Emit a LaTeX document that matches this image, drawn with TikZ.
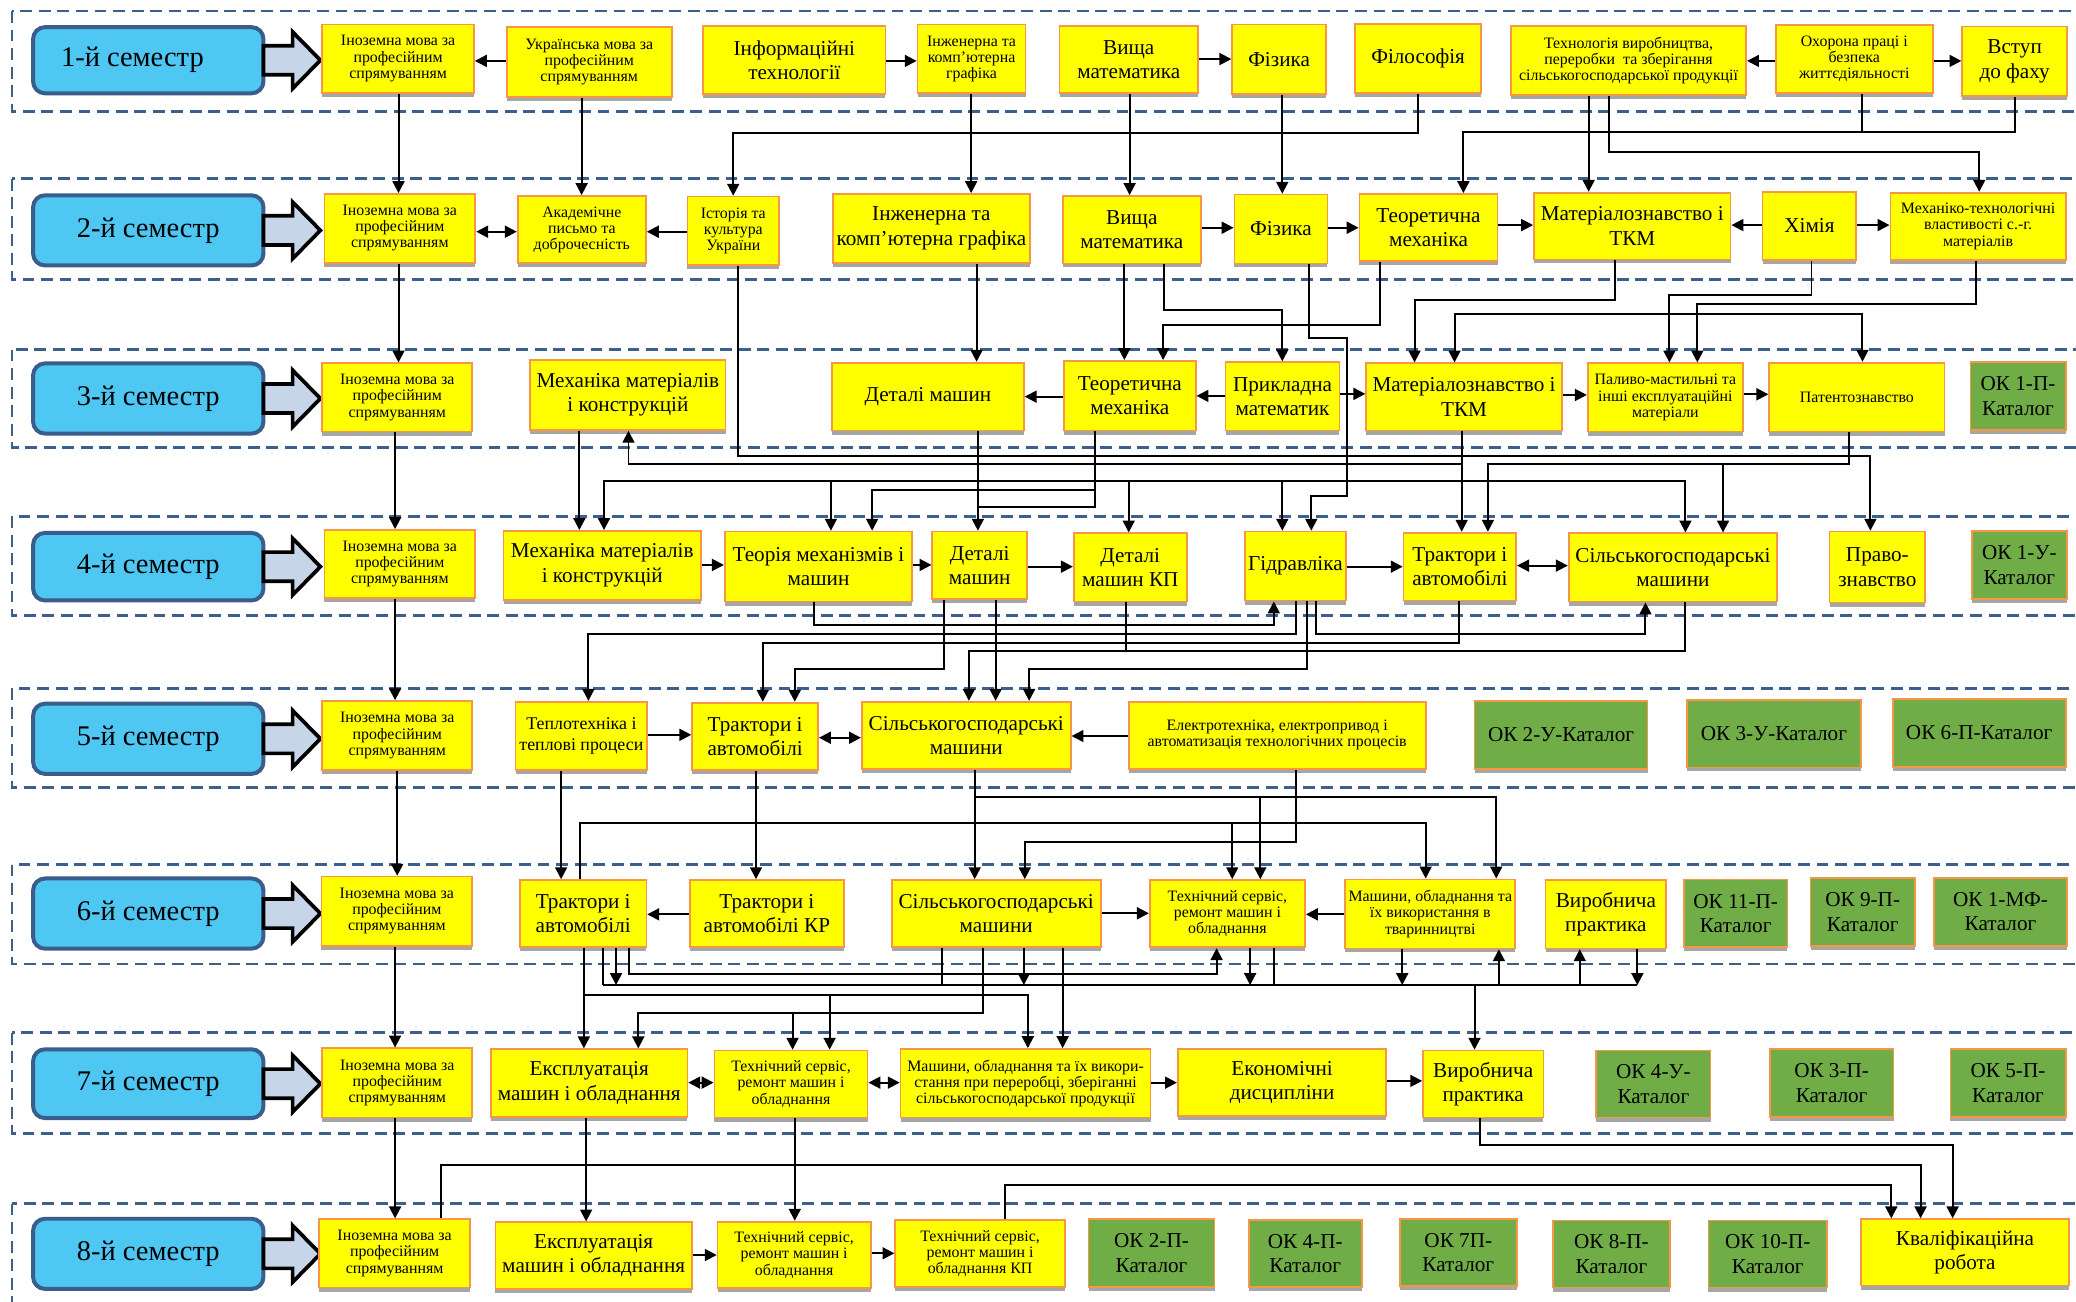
\documentclass[tikz,border=0pt]{standalone}
\usepackage{fontspec}
\setmainfont{Liberation Serif}
\usetikzlibrary{arrows.meta,shadows}
\definecolor{yel}{HTML}{FFFF00}
\definecolor{orb}{HTML}{F79646}
\definecolor{grn}{HTML}{70AD47}
\definecolor{semf}{HTML}{4EC7F3}
\definecolor{semd}{HTML}{3A5D8C}
\definecolor{bandc}{HTML}{3D5F8C}
\definecolor{barr}{HTML}{C6D5E8}
\definecolor{shd}{HTML}{A6A6A6}
\newcommand\mybox[7]{%
  \pgfmathsetmacro\mbw{#4-#2}%
  \pgfmathsetmacro\mbh{#5-#3}%
  \pgfmathsetmacro\mbx{(#2+#4)/2}%
  \pgfmathsetmacro\mby{(#3+#5)/2}%
  \node[#6, minimum width=\mbw pt, minimum height=\mbh pt] (#1) at (\mbx,\mby) {#7};%
}
\newcommand\semrow[4]{%
  \pgfmathsetmacro\sry{(#2+#3)/2}%
  \pgfmathsetmacro\srh{#3-#2-3}%
  \node[semb, minimum height=\srh pt] (#1) at (112,\sry) {#4};%
  \draw[blk] (199,\sry-11) -- (221,\sry-11) -- (221,\sry-21.4) -- (242,\sry) -- (221,\sry+21.4) -- (221,\sry+11) -- (199,\sry+11) -- cycle;%
}
\begin{document}
\begin{tikzpicture}[x=1pt,y=-1pt,
  yb/.style={draw=orb, line width=1.3pt, fill=yel, align=center, inner sep=1pt,
     drop shadow={shadow xshift=0pt, shadow yshift=-3pt, fill=shd, opacity=1}},
  gb/.style={yb, fill=grn},
  bf/.style={font=\fontsize{16}{18.4}\selectfont},
  sf/.style={font=\fontsize{12}{12.2}\selectfont},
  mf/.style={font=\fontsize{13.5}{16}\selectfont},
  semb/.style={draw=semd, line width=3pt, fill=semf, rounded corners=9pt, minimum width=174pt,
     font=\fontsize{21.5}{24}\selectfont},
  blk/.style={draw=black, line width=2.8pt, fill=barr, line join=miter},
  bandl/.style={draw=bandc, line width=2pt, dash pattern=on 9pt off 5pt},
  arr/.style={line width=1.5pt, -{Triangle[length=9pt,width=9pt]}},
  darr/.style={line width=1.5pt, {Triangle[length=9pt,width=9pt]}-{Triangle[length=9pt,width=9pt]}},
  ln/.style={line width=1.5pt}]
\useasboundingbox (0,0) rectangle (1568,983);
\fill[white] (0,0) rectangle (1568,983);
% bands
\draw[bandl] (9,8.3) rectangle (1600,84);
\draw[bandl] (9,135) rectangle (1600,211);
\draw[bandl] (9,264) rectangle (1600,338);
\draw[bandl] (9,390) rectangle (1600,465);
\draw[bandl] (9,520) rectangle (1600,595);
\draw[bandl] (9,653) rectangle (1600,728);
\draw[bandl] (9,780) rectangle (1600,856);
\draw[bandl] (9,909) rectangle (1600,1000);
% semesters
\semrow{s1}{19}{72}{1-й семестр\hspace*{24pt}}
\semrow{s2}{146}{202}{2-й семестр}
\semrow{s3}{273}{329}{3-й семестр}
\semrow{s4}{401}{455}{4-й семестр}
\semrow{s5}{530}{586}{5-й семестр}
\semrow{s6}{662}{718}{6-й семестр}
\semrow{s7}{791}{846}{7-й семестр}
\semrow{s8}{919}{975}{8-й семестр}
% row 1
\mybox{i1}{243.4}{18.4}{358}{70}{yb,sf}{Іноземна мова за\\професійним\\спрямуванням}
\mybox{ukr}{382.7}{20.6}{507.4}{73}{yb,sf}{Українська мова за\\професійним\\спрямуванням}
\mybox{inf}{531.2}{19.4}{668.8}{71.2}{yb,bf}{Інформаційні\\технології}
\mybox{ikg1}{693}{18.6}{774.6}{70.5}{yb,sf}{Інженерна та\\комп'ютерна\\графіка}
\mybox{vm1}{800.3}{19.4}{904.8}{70.5}{yb,bf}{Вища\\математика}
\mybox{fiz1}{930.7}{18.6}{1001.5}{71.2}{yb,bf}{Фізика}
\mybox{fil}{1023.5}{18}{1118.7}{70}{yb,bf}{Філософія}
\mybox{tvp}{1141.2}{19.4}{1318.9}{71.7}{yb,sf}{Технологія виробництва,\\переробки \ та зберігання\\сільськогосподарської продукції}
\mybox{ohp}{1341.3}{18.9}{1459.7}{70}{yb,sf}{Охорона праці і\\безпека\\життєдіяльності}
\mybox{vst}{1482.1}{20.1}{1561.2}{72.3}{yb,bf}{Вступ\\до фаху}
% row 2
\mybox{i2}{245}{146.5}{359}{198.4}{yb,sf}{Іноземна мова за\\професійним\\спрямуванням}
\mybox{akad}{391}{148}{487.9}{198.9}{yb,sf}{Академічне\\письмо та\\доброчесність}
\mybox{ist}{519.2}{148.5}{588.5}{200}{yb,sf}{Історія та\\культура\\України}
\mybox{ikg2}{629}{146.5}{778}{198.4}{yb,bf}{Інженерна та\\комп'ютерна графіка}
\mybox{vm2}{802.6}{148}{907.1}{199}{yb,bf}{Вища\\математика}
\mybox{fiz2}{932.4}{147}{1002.6}{199}{yb,bf}{Фізика}
\mybox{tm2}{1026.8}{146.5}{1131.1}{197}{yb,bf}{Теоретична\\механіка}
\mybox{mtkm2}{1158.6}{145.5}{1307.1}{195.9}{yb,bf}{Матеріалознавство і\\ТКМ}
\mybox{him}{1331.3}{144.8}{1402}{196.4}{yb,bf}{Хімія}
\mybox{mtv}{1427.8}{145.5}{1560.2}{196.4}{yb,sf}{Механіко-технологічні\\властивості с.-г.\\матеріалів}
% row 3
\mybox{i3}{243.4}{274.4}{356.7}{326}{yb,sf}{Іноземна мова за\\професійним\\спрямуванням}
\mybox{mmk3}{400.5}{271.9}{548}{324.7}{yb,bf}{Механіка матеріалів\\і конструкцій}
\mybox{dm3}{628.3}{273.9}{773.3}{325.2}{yb,bf}{Деталі машин}
\mybox{tm3}{803.6}{272.6}{903.1}{325.2}{yb,bf}{Теоретична\\механіка}
\mybox{pm3}{925.7}{273.6}{1011.7}{325.2}{yb,bf}{Прикладна\\математик}
\mybox{mtkm3}{1031.9}{274.4}{1179.7}{325.2}{yb,bf}{Матеріалознавство і\\ТКМ}
\mybox{pmm}{1199.2}{274.4}{1316.5}{326}{yb,sf}{Паливо-мастильні та\\інші експлуатаційні\\матеріали}
\mybox{pat}{1336.3}{273.9}{1468.7}{326}{yb,sf}{Патентознавство}
\mybox{ok1p}{1488.2}{273.6}{1560.2}{324.7}{gb,bf}{ОК 1-П-\\Каталог}
% row 4
\mybox{i4}{245}{400.3}{359}{451.9}{yb,sf}{Іноземна мова за\\професійним\\спрямуванням}
\mybox{mmk4}{380.3}{401}{529.5}{453}{yb,bf}{Механіка матеріалів\\і конструкцій}
\mybox{tmm}{547.4}{401.5}{689}{454.4}{yb,bf}{Теорія механізмів і\\машин}
\mybox{dm4}{704.2}{401.5}{775.7}{452.6}{yb,bf}{Деталі\\машин}
\mybox{dmkp}{811}{402.8}{896.4}{454.4}{yb,bf}{Деталі\\машин КП}
\mybox{gidr}{940.2}{401.5}{1016.7}{453.6}{yb,bf}{Гідравліка}
\mybox{ta4}{1060.1}{402.3}{1145.2}{453.6}{yb,bf}{Трактори і\\автомобілі}
\mybox{sgm4}{1184.8}{402.8}{1342.3}{454.4}{yb,bf}{Сільськогосподарські\\машини}
\mybox{prav}{1381.9}{401.5}{1454}{455.1}{yb,bf}{Право-\\знавство}
\mybox{ok1u}{1489.2}{400.8}{1561.2}{452.6}{gb,bf}{ОК 1-У-\\Каталог}
% row 5
\mybox{i5}{243.4}{529.5}{356.7}{581.6}{yb,sf}{Іноземна мова за\\професійним\\спрямуванням}
\mybox{teplo}{389.4}{530}{488.9}{581.6}{yb,mf}{Теплотехніка і\\теплові процеси}
\mybox{ta5}{522.8}{530.7}{617.9}{581.6}{yb,bf}{Трактори і\\автомобілі}
\mybox{sgm5}{650.9}{530}{808.7}{580.8}{yb,bf}{Сільськогосподарські\\машини}
\mybox{elek}{852.5}{530}{1076.8}{580.8}{yb,sf}{Електротехніка, електропривод і\\автоматизація технологічних процесів}
\mybox{ok2u}{1113.7}{529.5}{1244.4}{580.8}{gb,bf}{ОК 2-У-Каталог}
\mybox{ok3u}{1274.3}{528.7}{1405.4}{579.6}{gb,bf}{ОК 3-У-Каталог}
\mybox{ok6p}{1429.5}{528.2}{1560.2}{579.1}{gb,bf}{ОК 6-П-Каталог}
% row 6
\mybox{i6}{242.8}{662.1}{356.7}{714.5}{yb,sf}{Іноземна мова за\\професійним\\спрямуванням}
\mybox{ta6}{392.8}{664.7}{488.2}{715.5}{yb,bf}{Трактори і\\автомобілі}
\mybox{takr6}{521}{664.7}{637.4}{715.5}{yb,bf}{Трактори і\\автомобілі КР}
\mybox{sgm6}{673.5}{664.7}{831.3}{715.5}{yb,bf}{Сільськогосподарські\\машини}
\mybox{tserv6}{868.4}{664.7}{985.7}{715.5}{yb,sf}{Технічний сервіс,\\ремонт машин і\\обладнання}
\mybox{mashtv}{1016.1}{664.2}{1144.5}{716.3}{yb,sf}{Машини, обладнання та\\їх використання в\\тваринництві}
\mybox{vp6}{1167.3}{664.7}{1258.5}{716.3}{yb,bf}{Виробнича\\практика}
\mybox{ok11p}{1271.9}{664.2}{1350}{715.5}{gb,bf}{ОК 11-П-\\Каталог}
\mybox{ok9p}{1367.5}{663.4}{1446.3}{714.5}{gb,bf}{ОК 9-П-\\Каталог}
\mybox{ok1mf}{1460.7}{662.9}{1561.2}{714.5}{gb,bf}{ОК 1-МФ-\\Каталог}
% row 7
\mybox{i7}{243.4}{791.8}{356.7}{844.1}{yb,sf}{Іноземна мова за\\професійним\\спрямуванням}
\mybox{ekspl7}{370.9}{792.5}{519.2}{843.4}{yb,bf}{Експлуатація\\машин і обладнання}
\mybox{tserv7}{539.6}{793.5}{655.3}{844.1}{yb,sf}{Технічний сервіс,\\ремонт машин і\\обладнання}
\mybox{mashpr7}{680.2}{792.3}{869}{844.1}{yb,sf}{Машини, обладнання та їх викори-\\стання при переробці, зберіганні\\сільськогосподарської продукції}
\mybox{ekon}{889.6}{792.5}{1047.1}{842.9}{yb,bf}{Економічні\\дисципліни}
\mybox{vp7}{1074.8}{793.5}{1165.7}{844.1}{yb,bf}{Виробнича\\практика}
\mybox{ok4u}{1205.6}{793.5}{1292}{844.1}{gb,bf}{ОК 4-У-\\Каталог}
\mybox{ok3p}{1336.6}{792.5}{1430.2}{843.4}{gb,bf}{ОК 3-П-\\Каталог}
\mybox{ok5p}{1473.1}{792.5}{1560.2}{843.4}{gb,bf}{ОК 5-П-\\Каталог}
% row 8
\mybox{i8}{241.1}{920.9}{355}{972.5}{yb,sf}{Іноземна мова за\\професійним\\спрямуванням}
\mybox{ekspl8}{374.2}{923.2}{522.6}{973.8}{yb,bf}{Експлуатація\\машин і обладнання}
\mybox{tserv8}{542}{922.7}{657.6}{973}{yb,sf}{Технічний сервіс,\\ремонт машин і\\обладнання}
\mybox{tserv8kp}{676.2}{921.4}{804.3}{972.3}{yb,sf}{Технічний сервіс,\\ремонт машин і\\обладнання КП}
\mybox{ok2p}{822.2}{920.9}{917.3}{971.8}{gb,bf}{ОК 2-П-\\Каталог}
\mybox{ok4p}{943.2}{921.4}{1028.5}{971.8}{gb,bf}{ОК 4-П-\\Каталог}
\mybox{ok7p}{1057.4}{920.7}{1145.5}{971.3}{gb,bf}{ОК 7П-\\Каталог}
\mybox{ok8p}{1173}{921.9}{1261.2}{972.5}{gb,bf}{ОК 8-П-\\Каталог}
\mybox{ok10p}{1290.4}{921.9}{1379.9}{972.5}{gb,bf}{ОК 10-П-\\Каталог}
\mybox{kval}{1405.4}{920.9}{1562.9}{971}{yb,bf}{Кваліфікаційна\\робота}
% ===== connectors row 1
\draw[arr] (ukr.west |- 0,46) -- (i1.east |- 0,46);
\draw[arr] (inf.east |- 0,46) -- (ikg1.west |- 0,46);
\draw[arr] (vm1.east |- 0,44.6) -- (fiz1.west |- 0,44.6);
\draw[arr] (ohp.west |- 0,46) -- (tvp.east |- 0,46);
\draw[arr] (ohp.east |- 0,46) -- (vst.west |- 0,46);
% row 2
\draw[darr] (i2.east |- 0,175) -- (akad.west |- 0,175);
\draw[arr] (ist.west |- 0,175) -- (akad.east |- 0,175);
\draw[arr] (vm2.east |- 0,172) -- (fiz2.west |- 0,172);
\draw[arr] (fiz2.east |- 0,172) -- (tm2.west |- 0,172);
\draw[arr] (tm2.east |- 0,170) -- (mtkm2.west |- 0,170);
\draw[arr] (him.west |- 0,170) -- (mtkm2.east |- 0,170);
\draw[arr] (him.east |- 0,170) -- (mtv.west |- 0,170);
% 1 -> 2
\draw[arr] (i1.south -| 301,0) -- (i2.north -| 301,0);
\draw[arr] (ukr.south -| 439.3,0) -- (akad.north -| 439.3,0);
\draw[arr] (fil.south -| 1070.8,0) -- (1070.8,100.7) -- (553.8,100.7) -- (ist.north -| 553.8,0);
\draw[arr] (ikg1.south -| 733.5,0) -- (ikg2.north -| 733.5,0);
\draw[arr] (vm1.south -| 853.2,0) -- (vm2.north -| 853.2,0);
\draw[arr] (fiz1.south -| 968.5,0) -- (fiz2.north -| 968.5,0);
\draw[ln] (ohp.south -| 1406,0) -- (1406,99.4);
\draw[arr] (vst.south -| 1521.7,0) -- (1521.7,99.4) -- (1105.3,99.4) -- (tm2.north -| 1105.3,0);
\draw[arr] (tvp.south -| 1199.9,0) -- (mtkm2.north -| 1199.9,0);
\draw[arr] (tvp.south -| 1215.6,0) -- (1215.6,115) -- (1494.9,115) -- (mtv.north -| 1494.9,0);
% 2 -> 3
\draw[arr] (i2.south -| 301,0) -- (i3.north -| 301,0);
\draw[arr] (ikg2.south -| 737.6,0) -- (dm3.north -| 737.6,0);
\draw[arr] (vm2.south -| 849.2,0) -- (tm3.north -| 849.2,0);
\draw[arr] (vm2.south -| 879.5,0) -- (879.5,234) -- (968.5,234) -- (pm3.north -| 968.5,0);
\draw[arr] (tm2.south -| 1042,0) -- (1042,245.5) -- (878.5,245.5) -- (tm3.north -| 878.5,0);
\draw[arr] (fiz2.south -| 988.7,0) -- (988.7,255.5) -- (1017.7,255.5) -- (1017.7,374.3) -- (990.4,374.3) -- (gidr.north -| 990.4,0);
\draw[arr] (mtkm2.south -| 1220,0) -- (1220,226.6) -- (1068.4,226.6) -- (mtkm3.north -| 1068.4,0);
\draw[arr] (him.south -| 1368.2,0) -- (1368.2,222.8) -- (1260.9,222.8) -- (pmm.north -| 1260.9,0);
\draw[arr] (1260.9,237.2) -- (1098.6,237.2) -- (mtkm3.north -| 1098.6,0);
\draw[arr] (1260.9,237.2) -- (1406.7,237.2) -- (pat.north -| 1406.7,0);
\draw[arr] (mtv.south -| 1492.5,0) -- (1492.5,229.6) -- (1282,229.6) -- (pmm.north -| 1282,0);
% row 3
\draw[arr] (tm3.west |- 0,299.6) -- (dm3.east |- 0,299.6);
\draw[arr] (pm3.west |- 0,299) -- (tm3.east |- 0,299);
\draw[arr] (pm3.east |- 0,297.5) -- (mtkm3.west |- 0,297.5);
\draw[arr] (mtkm3.east |- 0,298.3) -- (pmm.west |- 0,298.3);
\draw[arr] (pmm.east |- 0,297.8) -- (pat.west |- 0,297.8);
% 3 -> 4
\draw[arr] (i3.south -| 298.4,0) -- (i4.north -| 298.4,0);
\draw[arr] (mmk3.south -| 437.6,0) -- (mmk4.north -| 437.6,0);
\draw[arr] (ist.south -| 557.5,0) -- (557.5,344.4) -- (1412.7,344.4) -- (prav.north -| 1412.7,0);
\draw[arr] (mtkm3.south -| 1104,0) -- (ta4.north -| 1104,0);
\draw[arr] (1104,350.7) -- (474.7,350.7) -- (mmk3.south -| 474.7,0);
\draw[arr] (1104,363) -- (456.2,363) -- (mmk4.north -| 456.2,0);
\draw[arr] (1104,363) -- (1273,363) -- (sgm4.north -| 1273,0);
\draw[arr] (627.6,363) -- (tmm.north -| 627.6,0);
\draw[arr] (852.5,363) -- (dmkp.north -| 852.5,0);
\draw[arr] (968.5,363) -- (gidr.north -| 968.5,0);
\draw[arr] (pat.south -| 1396.6,0) -- (1396.6,350.7) -- (1123.8,350.7) -- (ta4.north -| 1123.8,0);
\draw[arr] (1301.4,350.7) -- (sgm4.north -| 1301.4,0);
\draw[arr] (dm3.south -| 738.6,0) -- (dm4.north -| 738.6,0);
\draw[ln] (tm3.south -| 826.9,0) -- (826.9,382.6) -- (738.6,382.6);
\draw[arr] (826.9,370) -- (658.7,370) -- (tmm.north -| 658.7,0);
% row 4
\draw[arr] (mmk4.east |- 0,426.7) -- (tmm.west |- 0,426.7);
\draw[arr] (tmm.east |- 0,426.7) -- (dm4.west |- 0,426.7);
\draw[arr] (dm4.east |- 0,428) -- (dmkp.west |- 0,428);
\draw[arr] (gidr.east |- 0,428) -- (ta4.west |- 0,428);
\draw[darr] (ta4.east |- 0,427.2) -- (sgm4.west |- 0,427.2);
% 4 -> 5
\draw[arr] (i4.south -| 298.4,0) -- (i5.north -| 298.4,0);
\draw[arr] (tmm.south -| 614.8,0) -- (614.8,472) -- (962.1,472) -- (gidr.south -| 962.1,0);
\draw[arr] (gidr.south -| 978.6,0) -- (978.6,478.8) -- (444.4,478.8) -- (teplo.north -| 444.4,0);
\draw[arr] (gidr.south -| 994.1,0) -- (994.1,478.8) -- (1242.8,478.8) -- (sgm4.south -| 1242.8,0);
\draw[arr] (gidr.south -| 987.4,0) -- (987.4,505.3) -- (777.3,505.3) -- (sgm5.north -| 777.3,0);
\draw[arr] (ta4.south -| 1101.6,0) -- (1101.6,485.4) -- (576.1,485.4) -- (ta5.north -| 576.1,0);
\draw[arr] (dm4.south -| 713.3,0) -- (713.3,505.3) -- (600.3,505.3) -- (ta5.north -| 600.3,0);
\draw[arr] (dm4.south -| 752,0) -- (sgm5.north -| 752,0);
\draw[arr] (sgm4.south -| 1273,0) -- (1273,491.7) -- (731.8,491.7) -- (sgm5.north -| 731.8,0);
\draw[ln] (dmkp.south -| 850.8,0) -- (850.8,491.7);
% row 5
\draw[arr] (teplo.east |- 0,555) -- (ta5.west |- 0,555);
\draw[darr] (ta5.east |- 0,557.2) -- (sgm5.west |- 0,557.2);
\draw[arr] (elek.west |- 0,555.9) -- (sgm5.east |- 0,555.9);
% 5 -> 6
\draw[arr] (i5.south -| 300,0) -- (i6.north -| 300,0);
\draw[arr] (teplo.south -| 423.8,0) -- (ta6.north -| 423.8,0);
\draw[arr] (ta6.north -| 438.3,0) -- (438.3,621.9) -- (1076.8,621.9) -- (mashtv.north -| 1076.8,0);
\draw[arr] (930.7,621.9) -- (tserv6.north -| 930.7,0);
\draw[arr] (ta5.south -| 571,0) -- (takr6.north -| 571,0);
\draw[arr] (sgm5.south -| 736.2,0) -- (sgm6.north -| 736.2,0);
\draw[arr] (736.2,602.2) -- (1130.1,602.2) -- (mashtv.north -| 1130.1,0);
\draw[arr] (951.9,602.2) -- (tserv6.north -| 951.9,0);
\draw[arr] (elek.south -| 978.6,0) -- (978.6,635.7) -- (774,635.7) -- (sgm6.north -| 774,0);
% row 6
\draw[arr] (takr6.west |- 0,690.6) -- (ta6.east |- 0,690.6);
\draw[arr] (sgm6.east |- 0,689.8) -- (tserv6.west |- 0,689.8);
\draw[arr] (mashtv.west |- 0,690.6) -- (tserv6.east |- 0,690.6);
% 6 -> 7
\draw[arr] (i6.south -| 298.4,0) -- (i7.north -| 298.4,0);
\draw[arr] (ta6.south -| 441,0) -- (ekspl7.north -| 441,0);
\draw[arr] (441,751.5) -- (776.3,751.5) -- (mashpr7.north -| 776.3,0);
\draw[arr] (626.6,751.5) -- (tserv7.north -| 626.6,0);
\draw[arr] (sgm6.south -| 742.6,0) -- (742.6,764.8) -- (482.1,764.8) -- (ekspl7.north -| 482.1,0);
\draw[arr] (598.6,764.8) -- (tserv7.north -| 598.6,0);
\draw[arr] (sgm6.south -| 802.6,0) -- (mashpr7.north -| 802.6,0);
\coordinate (busl) at (455.2,744);
\coordinate (busr) at (1236.7,744);
\draw[ln] (busl) -- (busr);
\draw[ln] (ta6.south -| busl) -- (busl);
\draw[arr] (ta6.south -| 465.3,0) -- (465.3,744);
\draw[arr] (ta6.south -| 475.4,0) -- (475.4,735.7) -- (918.9,735.7) -- (tserv6.south -| 918.9,0);
\draw[ln] (sgm6.south -| 711.6,0) -- (711.6,744);
\draw[arr] (sgm6.south -| 773.3,0) -- (773.3,744);
\draw[arr] (tserv6.south -| 944.2,0) -- (944.2,744);
\draw[ln] (tserv6.south -| 962.1,0) -- (962.1,744);
\draw[arr] (mashtv.south -| 1059.1,0) -- (1059.1,744);
\draw[arr] (1132.1,744) -- (mashtv.south -| 1132.1,0);
\draw[arr] (1193.2,744) -- (vp6.south -| 1193.2,0);
\draw[arr] (vp6.south -| busr) -- (busr);
\draw[arr] (1113.7,744) -- (vp7.north -| 1113.7,0);
% row 7
\draw[darr] (ekspl7.east |- 0,817.7) -- (tserv7.west |- 0,817.7);
\draw[darr] (tserv7.east |- 0,817.7) -- (mashpr7.west |- 0,817.7);
\draw[arr] (mashpr7.east |- 0,817.7) -- (ekon.west |- 0,817.7);
\draw[arr] (ekon.east |- 0,816.4) -- (vp7.west |- 0,816.4);
% 7 -> 8
\draw[arr] (i7.south -| 298.4,0) -- (i8.north -| 298.4,0);
\draw[arr] (ekspl7.south -| 442.7,0) -- (ekspl8.north -| 442.7,0);
\draw[arr] (tserv7.south -| 600.3,0) -- (tserv8.north -| 600.3,0);
\draw[arr] (i8.north -| 332.8,0) -- (332.8,879.9) -- (1450.6,879.9) -- (kval.north -| 1450.6,0);
\draw[arr] (tserv8kp.north -| 758.8,0) -- (758.8,895) -- (1428.5,895) -- (kval.north -| 1428.5,0);
\draw[arr] (vp7.south -| 1117.7,0) -- (1117.7,864.8) -- (1474.8,864.8) -- (kval.north -| 1474.8,0);
% row 8
\draw[arr] (ekspl8.east |- 0,947.9) -- (tserv8.west |- 0,947.9);
\draw[arr] (tserv8.east |- 0,946.6) -- (tserv8kp.west |- 0,946.6);
\end{tikzpicture}
\end{document}
